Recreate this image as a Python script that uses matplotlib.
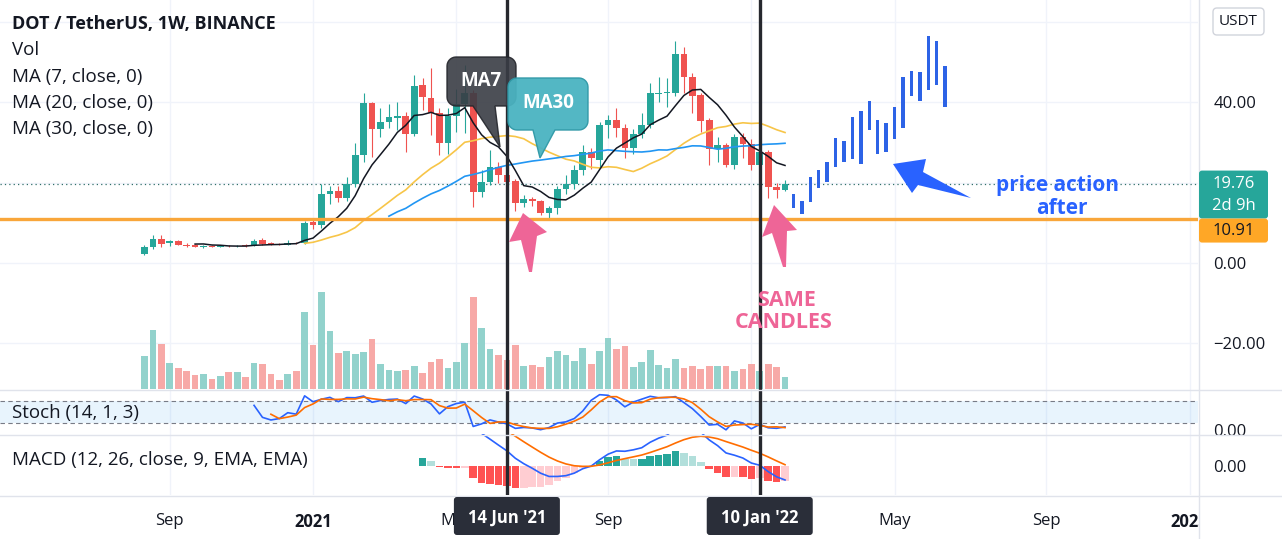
import numpy as np
import pandas as pd
import matplotlib
matplotlib.use('Agg')
import matplotlib.pyplot as plt
import matplotlib.dates as mdates
from matplotlib.patches import Rectangle, FancyBboxPatch, Polygon
from matplotlib.lines import Line2D
from matplotlib.transforms import IdentityTransform

plt.rcParams['font.family'] = ['Open Sans', 'DejaVu Sans']

# DOT / USDT weekly candles (Binance), first bar = week of 17 Aug 2020
opens = [2.2, 4.05, 5.9, 4.9, 5.4, 4.6, 4.4, 4.05, 4.2, 4.1,
         4.3, 4.15, 4.35, 4.4, 5.7, 5.0, 4.7, 4.6, 5.1, 4.9,
         10.3, 9.4, 17.2, 18.0, 16.2, 19.6, 26.9, 39.7, 33.3, 35.0,
         36.1, 36.6, 32.0, 44.3, 41.0, 37.2, 29.8, 36.6, 39.5, 42.2,
         17.7, 20.2, 24.0, 21.9, 20.5, 14.9, 15.8, 15.3, 12.5, 13.6,
         18.3, 19.6, 23.1, 27.7, 25.6, 34.3, 35.6, 33.7, 28.5, 32.1,
         34.3, 42.0, 42.2, 42.4, 52.0, 46.2, 41.8, 35.6, 28.3, 29.4,
         24.4, 31.3, 29.6, 24.4, 27.7, 18.8, 18.2]
highs = [4.6, 7.0, 7.0, 5.7, 5.7, 4.9, 4.7, 4.5, 4.4, 4.6,
         4.5, 4.6, 4.8, 6.0, 6.3, 5.3, 5.0, 5.6, 5.3, 10.4,
         11.0, 19.6, 19.2, 19.2, 21.5, 29.8, 42.2, 40.0, 38.6, 39.6,
         40.1, 37.6, 46.8, 45.9, 48.4, 38.5, 38.5, 43.2, 49.3, 43.0,
         23.1, 28.1, 25.2, 23.5, 20.8, 16.9, 16.4, 15.6, 14.2, 19.2,
         21.9, 24.4, 29.4, 28.5, 35.0, 36.8, 38.5, 34.5, 33.3, 37.2,
         44.7, 46.3, 45.9, 55.1, 53.8, 47.2, 42.2, 36.0, 31.3, 29.9,
         32.0, 32.4, 30.8, 28.9, 28.0, 20.0, 20.6]
lows = [2.0, 3.6, 3.9, 4.2, 4.4, 4.1, 3.9, 3.8, 3.9, 3.9,
        4.0, 4.0, 4.1, 4.3, 4.5, 4.4, 4.4, 4.5, 4.7, 4.8,
        8.5, 8.7, 14.7, 15.2, 15.5, 19.0, 25.0, 26.3, 31.3, 33.5,
        33.1, 27.7, 31.5, 38.0, 31.8, 26.9, 27.0, 32.7, 32.4, 14.0,
        16.5, 19.5, 20.0, 19.0, 13.0, 14.0, 14.3, 11.9, 10.7, 12.3,
        17.2, 18.5, 22.0, 23.5, 23.8, 31.0, 31.4, 26.0, 27.2, 31.0,
        33.5, 40.1, 38.9, 41.5, 42.4, 37.4, 32.7, 24.4, 25.2, 24.0,
        23.3, 26.0, 23.1, 22.5, 16.1, 16.1, 17.8]
closes = [4.05, 5.9, 4.7, 5.4, 4.6, 4.3, 4.05, 4.2, 4.1, 4.3,
          4.15, 4.35, 4.3, 5.4, 4.8, 4.7, 4.6, 5.0, 4.9, 10.0,
          9.4, 17.2, 18.0, 16.2, 19.6, 26.9, 39.7, 33.3, 35.1, 36.2,
          36.6, 32.0, 44.0, 41.2, 37.2, 29.8, 36.6, 39.5, 42.2, 17.7,
          20.2, 24.0, 21.9, 20.2, 14.9, 15.8, 15.3, 12.5, 13.6, 18.3,
          19.6, 23.1, 27.7, 26.0, 34.3, 35.6, 33.7, 28.5, 32.1, 34.3,
          42.2, 42.3, 42.6, 52.0, 46.2, 41.6, 35.4, 28.3, 29.4, 24.4,
          31.4, 29.6, 24.4, 27.7, 18.8, 18.2, 19.76]
volume = [33.3, 59.3, 45.3, 26.3, 21, 18.3, 14.3, 15, 10.3, 13.3,
          17.3, 17.3, 12.3, 26.3, 25.3, 15, 9.3, 15.3, 18.3, 77.3,
          44.3, 97.3, 58.3, 36.3, 38.3, 35.3, 37.3, 50.3, 25.3, 19.3,
          18.3, 19.3, 23.3, 16.3, 27.3, 30.3, 21.3, 27.3, 46.3, 92.3,
          61.3, 40.3, 34.3, 29.3, 44.3, 23.3, 24.3, 22.3, 32.3, 38.3,
          34.3, 28.3, 41.3, 25.3, 38.3, 51.3, 40.3, 43.3, 22.3, 27.3,
          39.3, 24.3, 21.3, 30.3, 21.3, 23.3, 20.3, 23.3, 23.3, 23.3,
          18.3, 20.3, 25.3, 18.3, 25.3, 22.3, 12.3]

# hand drawn "price action after" bars
proj_hi = [17.2, 15.5, 21.3, 23.1, 25.0, 31.0, 30.3, 36.2, 37.8, 40.3,
           35.6, 34.8, 38.7, 46.2, 47.8, 47.4, 56.5, 55.2, 49.0]
proj_lo = [13.6, 12.2, 15.1, 18.6, 20.2, 24.0, 25.2, 25.9, 24.6, 33.1,
           27.0, 27.7, 30.8, 33.7, 41.6, 40.3, 43.0, 44.3, 38.9]

support = 10.91
last_price = 19.76
marked = ['2021-06-14', '2022-01-10']
month_ticks = ['2020-09-07', '2021-01-04', '2021-05-03', '2021-09-06',
               '2022-01-03', '2022-05-02', '2022-09-05', '2023-01-02']
# 2022 sits under the "10 Jan '22" marker, so it is not printed
month_labels = ['Sep', '2021', 'May', 'Sep', '', 'May', 'Sep', '2023']

TEAL, RED = '#26a69a', '#ef5350'
INK = '#131722'

dates = pd.date_range('2020-08-17', periods=len(closes), freq='7D')
pdates = pd.date_range(dates[-1] + pd.Timedelta(days=7), periods=len(proj_hi), freq='7D')
x = mdates.date2num(dates)
px_ = mdates.date2num(pdates)
o, h, l, c = map(np.array, (opens, highs, lows, closes))
up = c >= o
col = np.where(up, TEAL, RED)
vcol = np.where(up, '#92d2cc', '#f7a9a7')

cl = pd.Series(closes)
ma7 = cl.rolling(7).mean()
ma20 = cl.rolling(20).mean()
ma30 = cl.rolling(30).mean()

# stochastic 14,1,3
hh = pd.Series(highs).rolling(14).max()
ll = pd.Series(lows).rolling(14).min()
k = 100 * (cl - ll) / (hh - ll)
d = k.rolling(3).mean()


def ema(vals, n):
    vals = np.asarray(vals, float)
    out = np.full(len(vals), np.nan)
    first = np.where(~np.isnan(vals))[0][0]
    s = first + n - 1
    out[s] = vals[first:s + 1].mean()
    a = 2 / (n + 1)
    for i in range(s + 1, len(vals)):
        out[i] = a * vals[i] + (1 - a) * out[i - 1]
    return out


macd = ema(closes, 12) - ema(closes, 26)
signal = ema(macd, 9)
hist = macd - signal
hcol = []
for i, v in enumerate(hist):
    prev = hist[i - 1] if i > 0 else np.nan
    if v >= 0:
        hcol.append('#26a69a' if (np.isnan(prev) or v > prev) else '#b2dfdb')
    else:
        hcol.append('#ff5252' if (np.isnan(prev) or v < prev) else '#ffcdd2')

# ---------------- figure ----------------
W, H = 1282, 539
fig = plt.figure(figsize=(W / 100, H / 100), dpi=100)
ID = IdentityTransform()


def rect(x0, y0, x1, y1):
    return [x0 / W, 1 - y1 / H, (x1 - x0) / W, (y1 - y0) / H]


def P(xp, yp):
    return (xp, H - yp)


ax = fig.add_axes(rect(0, 0, 1198, 389))
axv = ax.twinx()
axs = fig.add_axes(rect(0, 389, 1198, 434), sharex=ax)
axm = fig.add_axes(rect(0, 434, 1198, 495), sharex=ax)
ax.set_zorder(2)
axv.set_zorder(1)
ax.patch.set_visible(False)

ax.set_xlim(mdates.date2num(pd.Timestamp('2020-04-19')), mdates.date2num(pd.Timestamp('2023-01-09')))
ax.set_ylim(-31.34, 65.42)
axv.set_ylim(0, 389)
axs.set_ylim(-10.1, 112.6)

tick_x = mdates.date2num(pd.to_datetime(month_ticks))
for a in (ax, axv, axs, axm):
    for sp in a.spines.values():
        sp.set_visible(False)

# volume
axv.bar(x, volume, width=5.6, color=vcol, linewidth=0)
axv.set_yticks([])
for t in tick_x:
    axv.axvline(t, color='#f0f3fa', lw=1, zorder=0)
for yv in (-20, 0, 20, 40, 60):
    axv.axhline((yv + 31.34) / (65.42 + 31.34) * 389, color='#f0f3fa', lw=1, zorder=0)

# candles
ax.vlines(x, l, h, color=col, lw=0.8, zorder=3)
ax.bar(x, np.maximum(np.abs(c - o), 0.15), bottom=np.minimum(o, c), width=5.6,
       color=col, linewidth=0, zorder=4)
ax.plot(x, ma20, color='#f7c548', lw=1.2, zorder=5)
ax.plot(x, ma30, color='#2196f3', lw=1.2, zorder=5)
ax.plot(x, ma7, color=INK, lw=1.1, zorder=5)
ax.axhline(support, color='#f9a63a', lw=2.4, zorder=6)
ax.axhline(last_price, color='#2f6f69', lw=0.9, ls=(0, (1, 2.5)), zorder=2)
ax.bar(px_, np.array(proj_hi) - np.array(proj_lo), bottom=proj_lo, width=2.8,
       color='#2d63e6', linewidth=0, zorder=4)

ax.yaxis.tick_right()
ax.set_yticks([-20, 0, 40])
ax.set_yticklabels(['\u221220.00', '0.00', '40.00'])
ax.tick_params(axis='y', length=0, pad=11, labelsize=12, labelcolor=INK)
ax.tick_params(axis='x', bottom=False, labelbottom=False)

# stochastic
axs.axhspan(20, 80, color='#2196f3', alpha=0.1, lw=0)
for lv in (20, 80):
    axs.axhline(lv, color='#787b86', lw=0.8, ls=(0, (4, 3)))
for t in tick_x:
    axs.axvline(t, color='#f0f3fa', lw=1, zorder=0)
axs.plot(x, k, color='#2962ff', lw=1.2)
axs.plot(x, d, color='#ff6d00', lw=1.2)
axs.yaxis.tick_right()
axs.set_yticks([0])
axs.set_yticklabels(['0.00'])
axs.tick_params(axis='y', length=0, pad=11, labelsize=12, labelcolor=INK)
axs.tick_params(axis='x', bottom=False, labelbottom=False)

# MACD
scale = -np.nanmin(hist) / 22.0
axm.set_ylim(-29 * scale, 32 * scale)
for t in tick_x:
    axm.axvline(t, color='#f0f3fa', lw=1, zorder=0)
ok = ~np.isnan(hist)
axm.bar(x[ok], hist[ok], width=6.3, color=np.array(hcol)[ok], linewidth=0)
axm.plot(x, macd, color='#2962ff', lw=1.2)
axm.plot(x, signal, color='#ff6d00', lw=1.2)
axm.yaxis.tick_right()
axm.set_yticks([0])
axm.set_yticklabels(['0.00'])
axm.tick_params(axis='y', length=0, pad=11, labelsize=12, labelcolor=INK)
axm.set_xticks(tick_x)
axm.set_xticklabels(month_labels)
axm.tick_params(axis='x', length=0, pad=13, labelsize=12, labelcolor=INK)
for lab in axm.get_xticklabels():
    if lab.get_text().isdigit():
        lab.set_fontweight('bold')

for a in (ax, axs, axm):
    for m in marked:
        a.axvline(mdates.date2num(pd.Timestamp(m)), color='#26282e', lw=2.4, zorder=7)

# ---------------- figure-level decorations ----------------
fig.add_artist(Rectangle(P(1199, 539), 83, 43, transform=ID, fc='white', ec='none', zorder=3))
fig.add_artist(Rectangle(P(1199, 452), 83, 17.5, transform=ID, fc='white', ec='none', zorder=3))
for yy in (389.5, 434.5, 495.5):
    fig.add_artist(Line2D([0, W], [H - yy, H - yy], transform=ID, color='#e0e3eb', lw=1, zorder=4))
fig.add_artist(Line2D([1198.5, 1198.5], [0, H], transform=ID, color='#e0e3eb', lw=1, zorder=4))

# legend text
fig.text(12 / W, 1 - 24 / H, 'DOT / TetherUS, 1W, BINANCE', va='center', size=13,
         weight='bold', color=INK)
for yy, s in ((50, 'Vol'), (77, 'MA (7, close, 0)'), (103, 'MA (20, close, 0)'),
              (129, 'MA (30, close, 0)'), (413, 'Stoch (14, 1, 3)'),
              (460, 'MACD (12, 26, close, 9, EMA, EMA)')):
    fig.text(12 / W, 1 - yy / H, s, va='center', size=13.5, color=INK)


def callout(x0, y0, x1, y1, r, tb0, tb1, tip):
    # pixel box (top-left origin) with a tail from the bottom edge
    X0, Y0 = x0, H - y1
    X1, Y1 = x1, H - y0

    def arc(cx, cy, a0, a1):
        t = np.radians(np.linspace(a0, a1, 8))
        return list(zip(cx + r * np.cos(t), cy + r * np.sin(t)))
    pts = arc(X0 + r, Y0 + r, 180, 270)
    pts += [(tb0, Y0), P(*tip), (tb1, Y0)]
    pts += arc(X1 - r, Y0 + r, 270, 360)
    pts += arc(X1 - r, Y1 - r, 0, 90)
    pts += arc(X0 + r, Y1 - r, 90, 180)
    return pts


fig.add_artist(Polygon(callout(447, 57, 516, 106, 9, 473, 495, (500, 147)), closed=True,
                       transform=ID, fc='#3a3d45', ec='#24262c', lw=1, alpha=0.9, zorder=5))
fig.text(481 / W, 1 - 81 / H, 'MA7', ha='center', va='center', size=13.5, weight='bold',
         color='white', zorder=6)
fig.add_artist(Polygon(callout(508, 78, 588, 130, 9, 533, 555, (540, 158)), closed=True,
                       transform=ID, fc='#4ab3c1', ec='#2f98a6', lw=1, alpha=0.95, zorder=5))
fig.text(548 / W, 1 - 103 / H, 'MA30', ha='center', va='center', size=13.5, weight='bold',
         color='white', zorder=6)

PINK = '#ee6597'
for pts in ([(523, 213), (547, 232), (537, 236), (532, 272), (529, 272), (521, 240), (509, 242)],
            [(774, 205), (797, 230), (787, 231), (786, 267), (783, 267), (772, 233), (762, 237)]):
    fig.add_artist(Polygon([P(*p) for p in pts], closed=True, transform=ID, fc=PINK,
                           ec='none', zorder=5))
fig.add_artist(Polygon([P(*p) for p in [(893, 164), (926, 159), (923, 172), (971, 198),
                                         (918, 185), (912, 193)]],
                       closed=True, transform=ID, fc='#2962ff', ec='none', zorder=5))
fig.text(1058 / W, 1 - 186 / H, 'price action', ha='center', va='center', size=15,
         weight='bold', color='#2962ff')
fig.text(1062 / W, 1 - 209 / H, 'after', ha='center', va='center', size=15,
         weight='bold', color='#2962ff')
fig.text(786 / W, 1 - 300 / H, 'SAME', ha='center', va='center', size=15.5, weight='bold',
         color=PINK)
fig.text(784 / W, 1 - 323 / H, 'CANDLES', ha='center', va='center', size=15.5, weight='bold',
         color=PINK)

# right scale boxes
fig.add_artist(FancyBboxPatch(P(1213, 35), 51, 27, boxstyle='round,pad=0,rounding_size=4',
                              transform=ID, fc='white', ec='#d1d4dc', lw=1, zorder=5))
fig.text(1238.5 / W, 1 - 21.5 / H, 'USDT', ha='center', va='center', size=11, color=INK, zorder=6)


def ypx(price):
    return H - ax.transData.transform((0, price))[1]


yl = ypx(last_price)
fig.add_artist(FancyBboxPatch(P(1199, yl + 35), 69, 48, boxstyle='round,pad=0,rounding_size=3',
                              transform=ID, fc=TEAL, ec='none', zorder=5))
fig.text(1234 / W, 1 - yl / H, '%.2f' % last_price, ha='center', va='center', size=12,
         color='white', zorder=6)
fig.text(1234 / W, 1 - (yl + 22) / H, '2d 9h', ha='center', va='center', size=12,
         color='white', zorder=6)
fig.add_artist(FancyBboxPatch(P(1199, yl + 59), 69, 24, boxstyle='round,pad=0,rounding_size=3',
                              transform=ID, fc='#ffa726', ec='none', zorder=5))
fig.text(1234 / W, 1 - (yl + 47) / H, '%.2f' % support, ha='center', va='center', size=12,
         color=INK, zorder=6)

# date boxes on the time axis
for m in marked:
    xd = ax.transData.transform((mdates.date2num(pd.Timestamp(m)), 0))[0]
    fig.add_artist(FancyBboxPatch(P(xd - 53, 535), 106, 38, boxstyle='round,pad=0,rounding_size=3',
                                  transform=ID, fc='#2a2e39', ec='none', zorder=5))
    lab = pd.Timestamp(m).strftime("%d %b '%y").lstrip('0')
    fig.text(xd / W, 1 - 518 / H, lab, ha='center', va='center', size=12, color='white',
             weight='bold', zorder=6)

fig.savefig('out.png', dpi=100)
